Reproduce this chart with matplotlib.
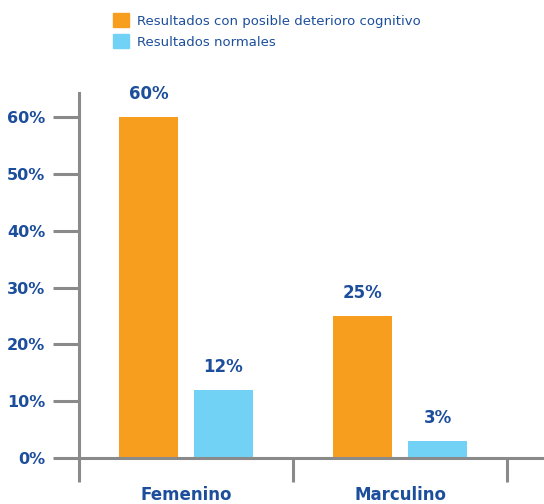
import numpy as np
import matplotlib.pyplot as plt
from matplotlib.patches import Patch

# Datos
categorias = ['Femenino', 'Marculino']
deterioro = [60, 25]
normales = [12, 3]
series = ['Resultados con posible deterioro cognitivo', 'Resultados normales']

naranja = '#F89E1F'
celeste = '#72D2F6'
azul = '#1C4E9C'
gris = '#8A8A8A'

plt.rcParams['font.family'] = 'DejaVu Sans'

fig = plt.figure(figsize=(5.44, 5.04), dpi=100)
ax = fig.add_axes([0.1452, 0.0913, 0.853, 0.724])

x = np.arange(len(categorias))
ancho = 0.276
sep = 0.175

b1 = ax.bar(x - sep, deterioro, ancho, color=naranja)
b2 = ax.bar(x + sep, normales, ancho, color=celeste)

# Etiquetas de valor
for barras, vals in [(b1, deterioro), (b2, normales)]:
    for b, v in zip(barras, vals):
        ax.text(b.get_x() + b.get_width() / 2, v + 2.5, f'{v}%',
                ha='center', va='bottom', fontsize=12, fontweight='bold', color=azul)

ax.set_xlim(-0.5, 1.668)
ax.set_ylim(0, 64.3)

# Ejes
for s in ['top', 'right']:
    ax.spines[s].set_visible(False)
for s in ['left', 'bottom']:
    ax.spines[s].set_color(gris)
    ax.spines[s].set_linewidth(2.2)

ax.set_yticks(np.arange(0, 61, 10))
ax.set_yticklabels([f'{v}%' for v in range(0, 61, 10)])
ax.tick_params(axis='y', length=18.7, width=2.2, color=gris, pad=5.5,
               labelsize=11.5, labelcolor=azul)

ax.set_xticks(x)
ax.set_xticklabels(categorias)
ax.set_xticks([-0.5, 0.5, 1.5], minor=True)
ax.tick_params(axis='x', which='major', length=0, pad=20, labelsize=12, labelcolor=azul)
ax.tick_params(axis='x', which='minor', length=17, width=2.2, color=gris)

for lbl in ax.get_xticklabels() + ax.get_yticklabels():
    lbl.set_fontweight('bold')

# Leyenda
handles = [Patch(color=naranja), Patch(color=celeste)]
fig.legend(handles, series, loc='upper left', bbox_to_anchor=(0.2077, 0.974),
           frameon=False, fontsize=9.5, handlelength=1.25, handleheight=1.25,
           handletextpad=0.55, labelspacing=0.5, borderpad=0, borderaxespad=0,
           labelcolor=azul)

fig.savefig('out.png', dpi=100)
